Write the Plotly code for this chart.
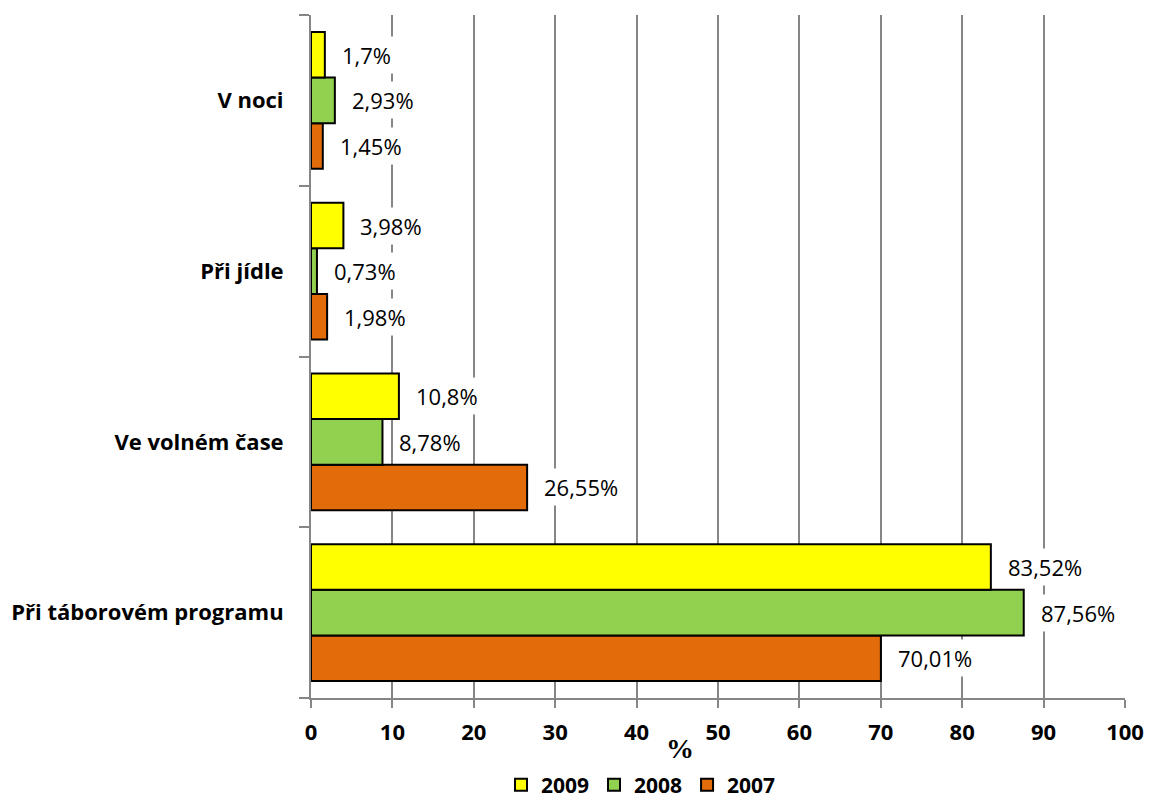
import plotly.graph_objects as go

categories = ["Při táborovém programu", "Ve volném čase", "Při jídle", "V noci"]
years = ["2007", "2008", "2009"]
values_2007 = [70.01, 26.55, 1.98, 1.45]
values_2008 = [87.56, 8.78, 0.73, 2.93]
values_2009 = [83.52, 10.8, 3.98, 1.7]
labels_2007 = ["70,01%", "26,55%", "1,98%", "1,45%"]
labels_2008 = ["87,56%", "8,78%", "0,73%", "2,93%"]
labels_2009 = ["83,52%", "10,8%", "3,98%", "1,7%"]
colors = {"2007": "#E36C0A", "2008": "#92D050", "2009": "#FFFF00"}
x_ticks = list(range(0, 101, 10))

series = [("2007", values_2007, labels_2007), ("2008", values_2008, labels_2008), ("2009", values_2009, labels_2009)]

W, H = 1149, 799
ml, mr, mt, mb = 311, 24, 15, 101
plot_h = H - mt - mb
band = plot_h / len(categories)
bargap = 0.2
bar_px = band * (1 - bargap) / len(series)

FONT = "Open Sans"
fig = go.Figure()
for name, vals, labs in series:
    fig.add_trace(go.Bar(
        y=categories, x=vals, name=name, orientation="h",
        marker=dict(color=colors[name], line=dict(color="black", width=2)),
    ))

annotations = []
for i, (name, vals, labs) in enumerate(series):
    shift = (i - 1) * bar_px
    for cat, v, lab in zip(categories, vals, labs):
        annotations.append(dict(
            x=v, y=cat, xref="x", yref="y", text=lab, showarrow=False,
            xanchor="left", yanchor="middle", xshift=13, yshift=shift,
            bgcolor="white", borderpad=3,
            font=dict(family=FONT, size=22, color="black"),
        ))

annotations.append(dict(
    x=(680 - ml) / (W - ml - mr), y=0, xref="paper", yref="paper", text="<b>%</b>",
    showarrow=False, xanchor="center", yanchor="middle", yshift=-50,
    font=dict(family="Liberation Serif", size=28, color="black"),
))

fig.update_layout(
    width=W, height=H,
    margin=dict(l=ml, r=mr, t=mt, b=mb, autoexpand=False),
    paper_bgcolor="white", plot_bgcolor="white",
    barmode="group", bargap=bargap, bargroupgap=0,
    font=dict(family=FONT, size=22, color="black"),
    showlegend=True,
    legend=dict(
        orientation="h", traceorder="reversed", x=641 / W, xref="container",
        xanchor="center", y=1 - 785 / H, yref="container", yanchor="middle",
        font=dict(family=FONT, size=21, color="black", weight="bold"),
        itemwidth=30, tracegroupgap=0,
    ),
    annotations=annotations,
    xaxis=dict(
        range=[0, 100], tickvals=x_ticks, ticktext=[f"<b>{t}</b>" for t in x_ticks],
        showgrid=True, gridcolor="#868686", gridwidth=2,
        showline=True, linecolor="#868686", linewidth=2,
        ticks="outside", ticklen=8, tickcolor="#868686", tickwidth=2,
        tickfont=dict(family=FONT, size=22, color="black"),
        ticklabelstandoff=6, automargin=False,
        zeroline=False, fixedrange=True,
    ),
    yaxis=dict(
        categoryorder="array", categoryarray=categories,
        tickmode="array", tickvals=categories,
        ticktext=[f"<b>{c}</b>" for c in categories],
        tickson="boundaries", ticks="outside", ticklen=10, tickcolor="#868686", tickwidth=2,
        showline=True, linecolor="#868686", linewidth=2,
        showgrid=False, ticklabelstandoff=21, automargin=False,
        tickfont=dict(family=FONT, size=22, color="black"),
    ),
)

fig.write_html("out.html")
